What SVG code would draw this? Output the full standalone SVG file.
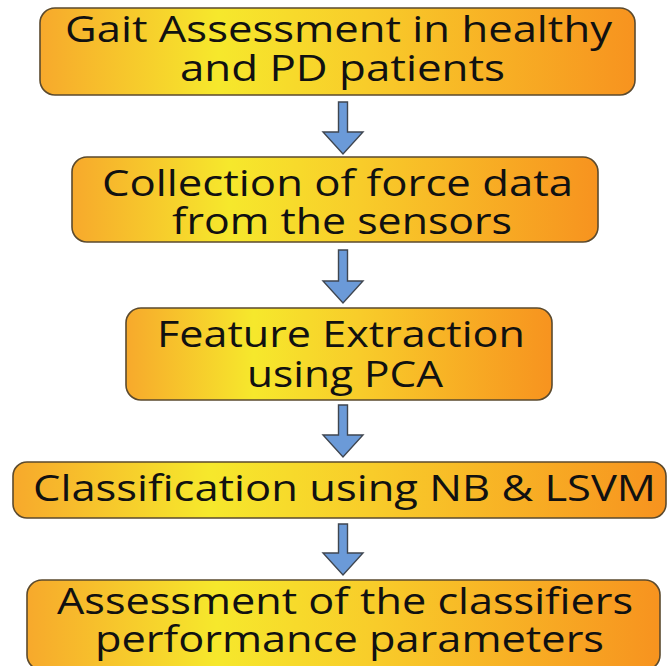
<svg xmlns="http://www.w3.org/2000/svg" width="667" height="666" viewBox="0 0 667 666">
  <defs>
    <linearGradient id="boxFill" x1="0" y1="0" x2="1" y2="0">
      <stop offset="0" stop-color="#f7a92c"/>
      <stop offset="0.3" stop-color="#f6e82c"/>
      <stop offset="0.55" stop-color="#f8cc2a"/>
      <stop offset="1" stop-color="#f7931f"/>
    </linearGradient>
    <style>
      .box { fill: url(#boxFill); stroke: #5b4a2e; stroke-width: 1.6; }
      .label { font-family: "Open Sans", "Liberation Sans", sans-serif; font-size: 37px; fill: #111; }
      .arrow { fill: #6b9ad8; stroke: #3f4650; stroke-width: 1.4; stroke-linejoin: miter; }
    </style>
  </defs>
  <rect width="667" height="666" fill="#ffffff"/>

  <g id="connectors">
    <path class="arrow" d="M338.5,102 H347.5 V132 H363 L343,154 L323,132 H338.5 Z"/>
    <path class="arrow" d="M338.5,250 H347.5 V281 H363 L343,303 L323,281 H338.5 Z"/>
    <path class="arrow" d="M338.5,405 H347.5 V435 H363 L343,457 L323,435 H338.5 Z"/>
    <path class="arrow" d="M338.5,524 H347.5 V553 H363 L343,575 L323,553 H338.5 Z"/>
  </g>

  <g id="gait-assessment">
    <rect class="box" x="40" y="8" width="595" height="87" rx="15"/>
    <text class="label" x="65" y="42" textLength="547" lengthAdjust="spacingAndGlyphs">Gait Assessment in healthy</text>
    <text class="label" x="180" y="81" textLength="325" lengthAdjust="spacingAndGlyphs">and PD patients</text>
  </g>

  <g id="force-data">
    <rect class="box" x="72" y="157" width="526" height="85" rx="15"/>
    <text class="label" x="102" y="196" textLength="471" lengthAdjust="spacingAndGlyphs">Collection of force data</text>
    <text class="label" x="172" y="234" textLength="340" lengthAdjust="spacingAndGlyphs">from the sensors</text>
  </g>

  <g id="feature-extraction">
    <rect class="box" x="126" y="308" width="426" height="92" rx="15"/>
    <text class="label" x="157" y="347" textLength="368" lengthAdjust="spacingAndGlyphs">Feature Extraction</text>
    <text class="label" x="247" y="387" textLength="196" lengthAdjust="spacingAndGlyphs">using PCA</text>
  </g>

  <g id="classification">
    <rect class="box" x="13" y="462" width="653" height="56" rx="14"/>
    <text class="label" x="33" y="501" textLength="623" lengthAdjust="spacingAndGlyphs">Classification using NB &amp; LSVM</text>
  </g>

  <g id="performance">
    <rect class="box" x="27" y="580" width="633" height="90" rx="15"/>
    <text class="label" x="57" y="614" textLength="576" lengthAdjust="spacingAndGlyphs">Assessment of the classifiers</text>
    <text class="label" x="95" y="652" textLength="509" lengthAdjust="spacingAndGlyphs">performance parameters</text>
  </g>
</svg>
